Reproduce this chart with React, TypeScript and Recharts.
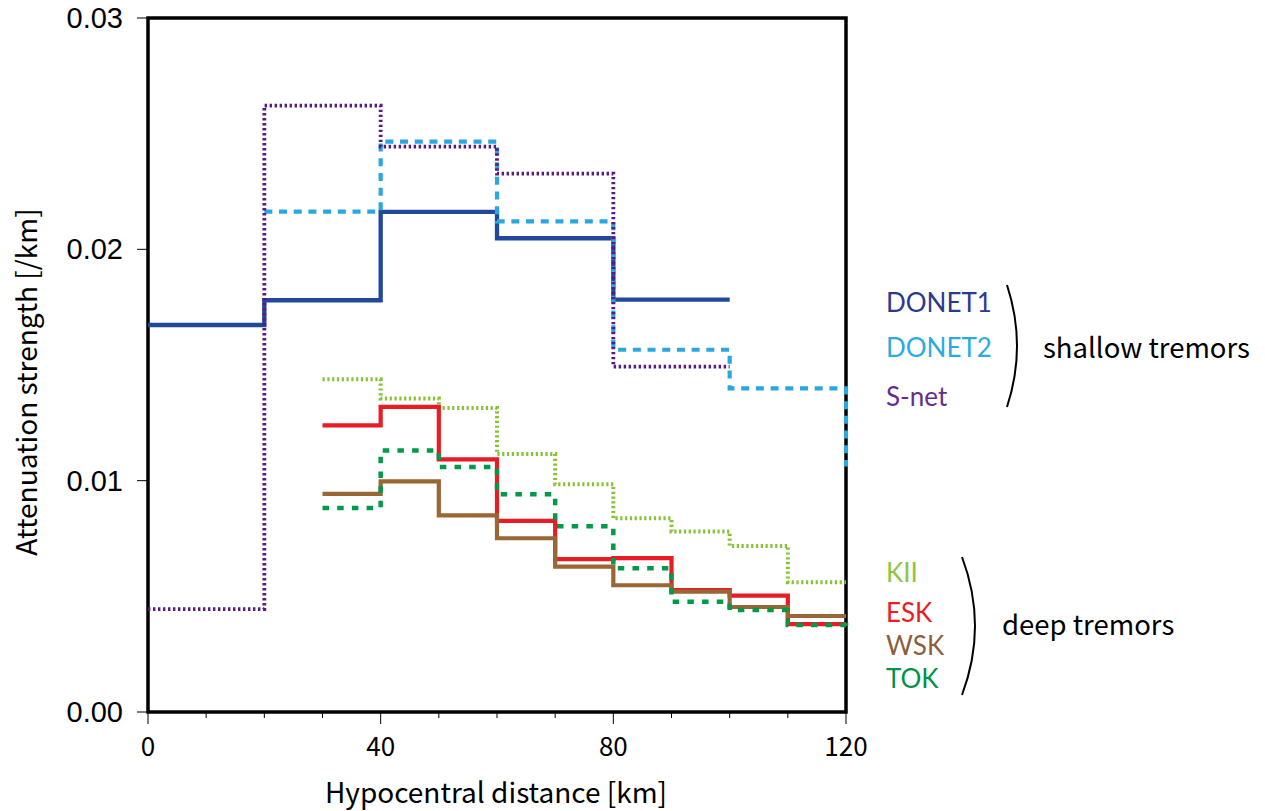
import React from 'react';
import { LineChart, Line, XAxis, YAxis } from 'recharts';

// bin starts (km)
const shallowStarts = [0, 20, 40, 60, 80];
const donet2Starts = [20, 40, 60, 80, 100];
const deepStarts = [30, 40, 50, 60, 70, 80, 90, 100, 110];

// attenuation strength per bin (/km)
const donet1Values = [0.01673, 0.0178, 0.02162, 0.02048, 0.01783];
const donet2Values = [0.02163, 0.02466, 0.02121, 0.01566, 0.01399];
const donet2Tail = 0.01061;
const snetValues = [0.00445, 0.02621, 0.02444, 0.02327, 0.01493];

const kiiValues = [0.01438, 0.01355, 0.01314, 0.01115, 0.00984, 0.00837, 0.0078, 0.00718, 0.00561];
const eskValues = [0.01239, 0.01319, 0.01092, 0.00826, 0.00661, 0.00665, 0.00527, 0.00503, 0.0038];
const wskValues = [0.00943, 0.00997, 0.0085, 0.00751, 0.00628, 0.00548, 0.0052, 0.00454, 0.00415];
const tokValues = [0.00882, 0.0113, 0.01059, 0.00941, 0.00803, 0.00621, 0.00477, 0.00441, 0.00376];
const tokTail = 0.0035;

const xTicks = [0, 10, 20, 30, 40, 50, 60, 70, 80, 90, 100, 110, 120];
const xLabelled = [0, 40, 80, 120];
const yTicks = [0, 0.01, 0.02, 0.03];

const JP = '"Noto Sans CJK JP", "Noto Sans", sans-serif';
const LEG = 'Lato, "Noto Sans", sans-serif';
const HELV = '"Liberation Sans", Arial, sans-serif';

type Pt = { x: number; y: number };

// step histogram: one point per bin start plus a closing point at the last bin's end
const toSteps = (starts: number[], values: number[], binWidth: number, tail?: number): Pt[] => {
  const pts = starts.map((x, i) => ({ x, y: values[i] }));
  pts.push({ x: starts[starts.length - 1] + binWidth, y: tail ?? values[values.length - 1] });
  return pts;
};

const series = [
  { name: 'KII', data: toSteps(deepStarts, kiiValues, 10), color: '#86c232', width: 4, dash: '2.2 2.6' },
  { name: 'ESK', data: toSteps(deepStarts, eskValues, 10), color: '#e81c24', width: 4.2, dash: undefined },
  { name: 'WSK', data: toSteps(deepStarts, wskValues, 10), color: '#996634', width: 4.2, dash: undefined },
  { name: 'TOK', data: toSteps(deepStarts, tokValues, 10, tokTail), color: '#009a49', width: 4.5, dash: '6.5 8.2' },
  { name: 'DONET1', data: toSteps(shallowStarts, donet1Values, 20), color: '#21489b', width: 4.3, dash: undefined },
  { name: 'DONET2', data: toSteps(donet2Starts, donet2Values, 20, donet2Tail), color: '#29a8e0', width: 4.2, dash: '8 6.7' },
  { name: 'S-net', data: toSteps(shallowStarts, snetValues, 20), color: '#5a1a86', width: 3.8, dash: '2.4 2.6' },
];

const BottomTick = (props: any) => {
  const { x, y, payload } = props;
  const major = xLabelled.includes(payload.value);
  return (
    <g>
      <line x1={x} x2={x} y1={y} y2={y + (major ? 12 : 6)} stroke="#000" strokeWidth={1} />
      {major && (
        <text x={x} y={y + 44} textAnchor="middle" fontFamily={JP} fontSize={26} fill="#000">
          {payload.value}
        </text>
      )}
    </g>
  );
};

const TopTick = (props: any) => {
  const { x, y, payload } = props;
  const major = xLabelled.includes(payload.value);
  return <line x1={x} x2={x} y1={y} y2={y - (major ? 13 : 6)} stroke="#000" strokeWidth={1} />;
};

const LeftTick = (props: any) => {
  const { x, y, payload } = props;
  return (
    <g>
      <line x1={x} x2={x - 11} y1={y} y2={y} stroke="#000" strokeWidth={1} />
      <text x={x - 25} y={y + 10} textAnchor="end" fontFamily={HELV} fontSize={29} fill="#000">
        {Number(payload.value).toFixed(2)}
      </text>
    </g>
  );
};

const RightTick = (props: any) => {
  const { x, y } = props;
  return <line x1={x} x2={x + 12} y1={y} y2={y} stroke="#000" strokeWidth={1} />;
};

const App = () => {
  return (
    <div style={{ position: 'absolute', left: 0, top: 0, width: 1265, height: 811, background: '#fff' }}>
      {/* plot frame, kept under the series so the lines at x = 120 stay visible */}
      <svg width={1265} height={811} style={{ position: 'absolute', left: 0, top: 0 }}>
        <rect x={148} y={18} width={698} height={694} fill="none" stroke="#000" strokeWidth={3.5} />
      </svg>

      <div style={{ position: 'absolute', left: 0, top: 0 }}>
        <LineChart width={1265} height={811} margin={{ top: 8, right: 359, bottom: 39, left: 48 }}>
          <XAxis
            xAxisId="bottom"
            orientation="bottom"
            dataKey="x"
            type="number"
            domain={[0, 120]}
            ticks={xTicks}
            interval={0}
            height={60}
            tickSize={0}
            tickMargin={0}
            tickLine={false}
            axisLine={false}
            tick={(p: any) => <BottomTick {...p} />}
          />
          <XAxis
            xAxisId="top"
            orientation="top"
            dataKey="x"
            type="number"
            domain={[0, 120]}
            ticks={xTicks}
            interval={0}
            height={10}
            tickSize={0}
            tickMargin={0}
            tickLine={false}
            axisLine={false}
            tick={(p: any) => <TopTick {...p} />}
          />
          <YAxis
            yAxisId="left"
            orientation="left"
            type="number"
            domain={[0, 0.03]}
            ticks={yTicks}
            interval={0}
            width={100}
            tickSize={0}
            tickMargin={0}
            tickLine={false}
            axisLine={false}
            tick={(p: any) => <LeftTick {...p} />}
          />
          <YAxis
            yAxisId="right"
            orientation="right"
            type="number"
            domain={[0, 0.03]}
            ticks={yTicks}
            interval={0}
            width={60}
            tickSize={0}
            tickMargin={0}
            tickLine={false}
            axisLine={false}
            tick={(p: any) => <RightTick {...p} />}
          />
          {series.map((s) => (
            <Line
              key={s.name}
              xAxisId="bottom"
              yAxisId="left"
              data={s.data}
              dataKey="y"
              name={s.name}
              type="stepAfter"
              stroke={s.color}
              strokeWidth={s.width}
              strokeDasharray={s.dash}
              dot={false}
              activeDot={false}
              isAnimationActive={false}
            />
          ))}
        </LineChart>
      </div>

      <svg
        width={1265}
        height={811}
        style={{ position: 'absolute', left: 0, top: 0, pointerEvents: 'none' }}
      >
        <text x={496} y={803} textAnchor="middle" fontFamily={JP} fontSize={28} fill="#000">
          Hypocentral distance [km]
        </text>
        <text
          transform="translate(37, 382) rotate(-90)"
          textAnchor="middle"
          fontFamily={JP}
          fontSize={28}
          fill="#000"
        >
          Attenuation strength [/km]
        </text>

        <g fontFamily={LEG} fontSize={26}>
          <text x={886} y={312} fill="#2b3990">DONET1</text>
          <text x={886} y={357} fill="#29abe2">DONET2</text>
          <text x={886} y={406} fill="#662d91">S-net</text>

          <text x={886} y={582} fill="#8dc63f">KII</text>
          <text x={886} y={622} fill="#ed1c24">ESK</text>
          <text x={886} y={655} fill="#8b5e3c">WSK</text>
          <text x={886} y={688} fill="#009245">TOK</text>
        </g>
        <g fontFamily={JP} fontSize={27.5} fill="#000">
          <text x={1043} y={358}>shallow tremors</text>
          <text x={1002} y={635}>deep tremors</text>
        </g>

        <path d="M1007,285 Q1027,346 1007,407" fill="none" stroke="#000" strokeWidth={2} />
        <path d="M962,557 Q988,626 962,695" fill="none" stroke="#000" strokeWidth={2} />
      </svg>
    </div>
  );
};

export default App;
